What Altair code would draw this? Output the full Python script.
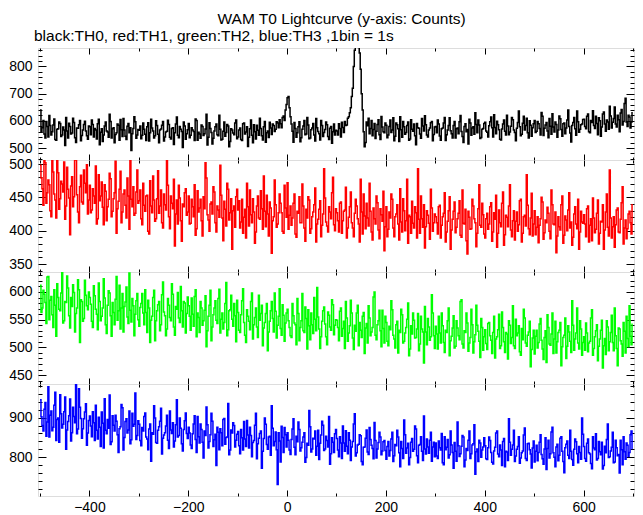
import altair as alt
import pandas as pd

FONT = "Liberation Sans"

# ---- data: counts per 1 s bin starting at t = -500 ----
# the "_even" lists hold bins -500, -496, ... ; the "_odd" lists hold bins -498, -494, ...
t_start = -500
bin_step = 2

th0_even = [
    640, 575, 552, 598, 541, 583, 560, 607, 529, 571, 590, 548, 566, 612, 537, 579, 555, 594, 520, 573, 601, 546, 587, 563, 532,
    578, 603, 541, 566, 589, 512, 571, 548, 596, 559, 624, 537, 575, 550, 588, 529, 567, 609, 543, 580, 556, 491, 572, 597, 548,
    565, 534, 592, 551, 578, 526, 606, 563, 545, 583, 519, 570, 598, 541, 562, 587, 533, 575, 556, 614, 538, 569, 502, 581, 553,
    590, 547, 566, 528, 601, 558, 536, 579, 553, 624, 540, 572, 515, 563, 588, 545, 569, 532, 596, 557, 581, 524, 566, 549, 603,
    541, 574, 528, 592, 559, 506, 571, 547, 586, 533, 565, 610, 545, 578, 521, 563, 595, 550, 583, 569, 592, 604, 575, 618, 640,
    685, 648, 588, 521, 572, 556, 597, 538, 581, 549, 612, 534, 567, 590, 526, 575, 553, 601, 542, 568, 586, 531, 579, 560, 548,
    563, 589, 541, 576, 598, 585, 615, 648, 720, 860, 875, 870, 790, 640, 505, 596, 610, 572, 545, 590, 562, 604, 531, 577, 556,
    584, 548, 603, 566, 527, 592, 571, 615, 540, 578, 557, 596, 533, 569, 588, 512, 575, 552, 609, 563, 586, 541, 574, 598, 550,
    579, 603, 544, 571, 592, 528, 566, 611, 553, 583, 537, 574, 597, 561, 520, 589, 568, 606, 547, 578, 630, 556, 585, 539, 572,
    595, 558, 582, 614, 541, 576, 599, 567, 530, 588, 562, 621, 549, 580, 604, 557, 573, 636, 545, 591, 566, 610, 537, 584, 575,
    601, 562, 589, 548, 617, 573, 594, 538, 580, 626, 559, 587, 566, 608, 543, 592, 574, 640, 555, 583, 612, 547, 597, 569, 588,
    606, 571, 625, 556, 594, 583, 617, 549, 600, 577, 633, 562, 596, 654, 574, 609, 588, 621, 560, 642, 598, 683, 579, 614, 596,
]
th0_odd = [
    558, 601, 537, 579, 620, 548, 585, 531, 569, 596, 542, 577, 509, 563, 591, 552, 610, 538, 574, 586, 527, 566, 599, 545, 581,
    549, 587, 572, 533, 606, 558, 524, 581, 563, 540, 598, 571, 519, 556, 584, 605, 542, 566, 531, 590, 575, 553, 615, 536, 568,
    581, 547, 569, 528, 593, 556, 574, 537, 600, 551, 566, 584, 526, 559, 602, 540, 572, 513, 588, 547, 579, 561, 596, 532, 567,
    538, 575, 561, 607, 529, 552, 585, 546, 570, 511, 593, 557, 536, 578, 549, 621, 530, 562, 543, 587, 505, 571, 555, 592, 534,
    566, 531, 589, 552, 578, 540, 603, 519, 560, 584, 547, 572, 530, 598, 556, 539, 574, 588, 561, 597, 575, 589, 612, 601, 660,
    690, 615, 562, 594, 540, 578, 523, 569, 601, 552, 585, 537, 574, 548, 609, 561, 530, 583, 557, 596, 542, 573, 518, 588, 565,
    548, 572, 595, 557, 583, 610, 630, 690, 800, 880, 885, 850, 700, 560, 520, 582, 553, 601, 568, 535, 587, 549, 616, 560, 592,
    538, 579, 557, 611, 543, 586, 524, 567, 598, 551, 583, 529, 604, 562, 545, 590, 573, 536, 581, 619, 548, 566, 593, 527, 577,
    556, 588, 529, 574, 612, 549, 583, 564, 537, 598, 571, 553, 620, 542, 579, 560, 515, 592, 574, 551, 587, 603, 535, 569, 590,
    563, 541, 597, 575, 622, 553, 586, 532, 570, 603, 548, 581, 559, 612, 566, 527, 594, 578, 551, 617, 583, 556, 600, 543, 589,
    557, 598, 572, 631, 546, 585, 563, 609, 551, 577, 596, 540, 618, 568, 589, 553, 603, 579, 522, 594, 571, 636, 558, 586, 605,
    579, 617, 560, 601, 637, 572, 590, 611, 543, 625, 588, 603, 569, 618, 595, 651, 577, 604, 629, 585, 664, 596, 621, 574, 633,
]

th1_even = [
    498, 463, 512, 441, 476, 430, 508, 455, 419, 487, 448, 470, 503, 437, 462, 394, 481, 451, 515, 428, 466, 443, 491, 457, 425,
    468, 431, 452, 497, 418, 445, 473, 409, 459, 436, 486, 421, 448, 504, 433, 462, 412, 455, 438, 479, 402, 447, 466, 426, 491,
    445, 418, 471, 429, 453, 395, 437, 482, 414, 448, 426, 461, 404, 439, 509, 421, 452, 433, 377, 446, 468, 415, 440, 457, 423,
    452, 411, 436, 469, 403, 428, 447, 392, 433, 479, 416, 440, 425, 458, 398, 431, 498, 419, 444, 407, 462, 427, 372, 437, 451,
    431, 404, 447, 420, 389, 436, 461, 412, 428, 398, 452, 417, 433, 482, 406, 425, 443, 366, 421, 439, 410, 455, 427, 396, 434,
    472, 423, 408, 441, 395, 429, 451, 412, 437, 384, 419, 446, 403, 428, 464, 410, 432, 391, 425, 449, 407, 436, 418, 480, 400,
    427, 398, 443, 415, 431, 389, 420, 458, 404, 426, 437, 410, 477, 395, 422, 441, 407, 429, 386, 418, 452, 401, 433, 414, 370,
    436, 402, 419, 447, 391, 425, 410, 463, 398, 430, 415, 381, 421, 444, 404, 427, 493, 396, 418, 439, 406, 423, 387, 434, 412,
    421, 395, 438, 408, 426, 383, 414, 451, 401, 429, 397, 418, 445, 390, 411, 432, 365, 420, 403, 437, 412, 396, 469, 405, 424,
    389, 426, 410, 442, 398, 417, 375, 431, 406, 458, 394, 420, 437, 401, 415, 386, 428, 409, 447, 396, 423, 484, 403, 419, 392,
    430, 405, 382, 418, 443, 397, 412, 426, 388, 439, 409, 367, 421, 401, 452, 393, 416, 431, 404, 378, 425, 410, 447, 398, 413,
    424, 391, 437, 408, 385, 419, 402, 446, 396, 413, 372, 428, 405, 491, 389, 421, 409, 434, 397, 442, 380, 416, 403, 429, 395,
]
th1_odd = [
    479, 438, 502, 457, 469, 421, 488, 446, 511, 432, 474, 458, 417, 495, 449, 467, 436, 506, 454, 412, 483, 440, 471, 499, 446,
    427, 463, 441, 410, 484, 452, 435, 469, 415, 447, 478, 429, 457, 396, 444, 489, 428, 461, 419, 452, 507, 436, 423, 458, 441,
    461, 409, 438, 452, 399, 475, 427, 446, 418, 490, 437, 412, 455, 431, 468, 403, 441, 477, 425, 410, 449, 384, 436, 463, 428,
    410, 447, 421, 393, 460, 434, 415, 451, 502, 424, 399, 443, 466, 412, 437, 420, 453, 385, 432, 471, 416, 448, 430, 405, 462,
    445, 413, 396, 432, 471, 407, 424, 448, 381, 437, 419, 460, 402, 429, 453, 392, 434, 415, 476, 405, 427, 441, 399, 468, 420,
    402, 437, 419, 455, 390, 426, 412, 470, 404, 432, 451, 396, 421, 439, 383, 417, 445, 408, 493, 413, 398, 428, 457, 409, 433,
    415, 441, 396, 429, 465, 404, 436, 412, 391, 447, 418, 383, 428, 455, 403, 419, 471, 398, 434, 410, 442, 388, 424, 459, 406,
    391, 428, 455, 404, 421, 439, 386, 413, 448, 400, 477, 423, 396, 411, 436, 389, 417, 452, 405, 374, 430, 411, 462, 399, 425,
    412, 436, 389, 421, 457, 398, 430, 372, 417, 443, 405, 426, 393, 461, 410, 385, 429, 402, 447, 418, 376, 433, 408, 441, 395,
    418, 402, 436, 384, 427, 453, 396, 412, 441, 378, 423, 406, 469, 391, 430, 414, 399, 445, 383, 421, 407, 438, 394, 456, 410,
    394, 421, 408, 450, 387, 416, 435, 399, 461, 410, 428, 392, 406, 439, 381, 422, 400, 457, 413, 390, 436, 403, 372, 429, 411,
    410, 433, 383, 418, 449, 397, 426, 380, 414, 439, 401, 455, 392, 419, 406, 375, 431, 398, 417, 466, 404, 388, 425, 412, 440,
]

th2_even = [
    612, 571, 596, 543, 628, 585, 559, 604, 520, 590, 566, 637, 548, 581, 607, 535, 574, 599, 561, 622, 509, 583, 552, 594, 568,
    590, 547, 611, 569, 532, 583, 556, 624, 541, 576, 598, 520, 563, 587, 549, 612, 571, 528, 582, 555, 634, 546, 575, 560, 597,
    538, 579, 562, 604, 527, 571, 549, 590, 512, 566, 583, 541, 618, 557, 533, 576, 548, 596, 522, 569, 553, 610, 537, 580, 561,
    575, 531, 560, 592, 519, 554, 583, 540, 567, 501, 556, 603, 537, 571, 549, 588, 526, 562, 545, 617, 532, 568, 551, 579, 510,
    563, 527, 584, 545, 509, 556, 532, 598, 541, 571, 518, 549, 576, 535, 561, 494, 547, 583, 528, 565, 540, 606, 522, 558, 544,
    569, 536, 518, 557, 541, 588, 512, 548, 530, 573, 497, 539, 562, 525, 551, 608, 533, 519, 566, 542, 505, 558, 531, 577, 540,
    549, 512, 571, 534, 498, 553, 526, 585, 517, 540, 562, 503, 531, 556, 489, 543, 575, 521, 536, 600, 514, 548, 530, 567, 508,
    545, 503, 532, 568, 515, 541, 490, 527, 559, 511, 536, 580, 497, 524, 549, 518, 561, 506, 533, 472, 528, 552, 513, 595, 521,
    538, 497, 526, 562, 509, 531, 548, 485, 520, 557, 502, 535, 514, 586, 499, 527, 544, 508, 569, 490, 523, 540, 511, 552, 495,
    532, 496, 545, 513, 527, 481, 519, 560, 503, 536, 491, 524, 548, 507, 575, 498, 521, 539, 486, 514, 553, 502, 528, 465, 517,
    488, 531, 509, 552, 497, 518, 473, 536, 504, 562, 515, 490, 527, 545, 501, 522, 480, 539, 511, 584, 495, 526, 508, 548, 486,
    519, 544, 492, 511, 568, 498, 530, 476, 515, 549, 503, 487, 537, 510, 558, 494, 521, 467, 533, 506, 545, 490, 516, 575, 505,
]
th2_odd = [
    563, 603, 581, 627, 550, 592, 536, 576, 615, 569, 598, 544, 583, 629, 557, 590, 613, 528, 571, 604, 586, 547, 621, 575, 600,
    578, 536, 593, 560, 616, 548, 571, 589, 525, 602, 557, 581, 541, 628, 566, 533, 597, 574, 609, 543, 567, 588, 521, 584, 550,
    572, 597, 541, 563, 585, 509, 556, 603, 548, 577, 530, 595, 564, 521, 588, 554, 615, 537, 574, 599, 545, 566, 583, 526, 591,
    556, 589, 538, 604, 562, 527, 571, 548, 593, 530, 576, 512, 559, 584, 543, 605, 551, 533, 579, 521, 566, 594, 538, 557, 585,
    531, 559, 606, 522, 568, 547, 583, 515, 554, 537, 594, 561, 503, 545, 579, 528, 566, 552, 598, 517, 556, 534, 577, 511, 562,
    548, 521, 579, 544, 505, 561, 536, 597, 527, 552, 568, 514, 541, 590, 530, 555, 498, 547, 573, 519, 564, 537, 586, 523, 550,
    536, 565, 520, 547, 583, 511, 539, 562, 496, 529, 576, 545, 518, 563, 535, 508, 553, 528, 591, 522, 541, 567, 501, 534, 556,
    511, 538, 584, 522, 499, 547, 531, 569, 508, 526, 551, 485, 539, 562, 517, 533, 494, 556, 528, 574, 505, 537, 519, 562, 498,
    524, 556, 508, 539, 491, 527, 571, 512, 535, 499, 548, 521, 583, 506, 530, 562, 493, 518, 541, 510, 576, 529, 482, 536, 519,
    507, 543, 521, 489, 556, 515, 532, 498, 564, 510, 527, 479, 540, 518, 503, 551, 526, 492, 534, 569, 508, 522, 547, 496, 531,
    520, 499, 542, 513, 478, 530, 559, 506, 524, 489, 547, 510, 531, 467, 518, 553, 502, 528, 491, 540, 515, 571, 497, 533, 509,
    495, 526, 508, 553, 486, 519, 541, 502, 531, 463, 516, 548, 494, 527, 509, 571, 498, 535, 512, 484, 529, 556, 501, 520, 543,
]

th3_even = [
    945, 880, 921, 853, 978, 906, 867, 931, 842, 899, 958, 874, 915, 820, 890, 947, 862, 903, 988, 871, 926, 848, 897, 935, 861,
    904, 852, 887, 931, 846, 876, 914, 823, 868, 895, 957, 839, 881, 906, 857, 872, 933, 818, 890, 861, 917, 844, 878, 962, 855,
    883, 829, 866, 912, 846, 871, 790, 858, 899, 835, 877, 924, 848, 862, 906, 822, 869, 887, 841, 945, 855, 873, 816, 892, 860,
    876, 831, 859, 905, 812, 852, 884, 838, 866, 927, 823, 857, 891, 844, 779, 863, 872, 829, 898, 850, 936, 818, 861, 880, 843,
    865, 809, 849, 890, 827, 856, 876, 801, 842, 911, 834, 860, 772, 847, 883, 820, 853, 930, 829, 864, 731, 841, 878, 812, 857,
    862, 818, 845, 897, 806, 839, 870, 824, 851, 787, 835, 918, 813, 848, 866, 828, 794, 856, 881, 821, 842, 903, 809, 838, 859,
    847, 801, 836, 879, 815, 828, 862, 792, 840, 910, 811, 833, 854, 781, 826, 869, 807, 845, 822, 888, 798, 837, 851, 816, 842,
    795, 840, 817, 863, 804, 829, 851, 776, 822, 894, 810, 835, 799, 847, 820, 871, 786, 832, 815, 904, 808, 826, 843, 790, 838,
    836, 797, 824, 860, 781, 819, 845, 806, 831, 772, 815, 889, 802, 828, 851, 793, 817, 866, 809, 834, 757, 821, 843, 800, 826,
    829, 794, 851, 812, 783, 825, 866, 801, 818, 840, 776, 813, 897, 805, 831, 789, 820, 852, 798, 816, 874, 792, 835, 808, 823,
    788, 830, 812, 857, 796, 821, 769, 843, 809, 876, 800, 826, 791, 848, 815, 761, 833, 805, 868, 794, 820, 839, 786, 812, 899,
    827, 790, 846, 808, 771, 823, 859, 797, 814, 838, 779, 811, 884, 801, 825, 786, 843, 804, 760, 819, 852, 795, 830, 812, 866,
]
th3_odd = [
    902, 866, 938, 889, 851, 917, 876, 964, 895, 838, 910, 883, 952, 869, 905, 841, 926, 887, 859, 973, 898, 872, 914, 830, 893,
    879, 915, 842, 868, 901, 827, 886, 948, 859, 873, 832, 905, 866, 891, 812, 877, 925, 850, 897, 869, 834, 911, 883, 845, 892,
    842, 875, 903, 851, 819, 884, 862, 930, 837, 868, 891, 808, 856, 879, 843, 917, 860, 826, 882, 851, 899, 834, 870, 912, 847,
    861, 822, 884, 845, 903, 836, 870, 798, 855, 882, 840, 911, 827, 858, 876, 819, 862, 895, 833, 851, 806, 869, 887, 826, 858,
    829, 870, 818, 846, 893, 823, 855, 837, 881, 796, 848, 866, 815, 899, 832, 851, 805, 873, 840, 819, 862, 788, 850, 875, 826,
    843, 807, 871, 825, 853, 889, 816, 838, 862, 799, 830, 877, 821, 846, 805, 868, 835, 891, 817, 853, 826, 782, 849, 812, 870,
    818, 852, 797, 836, 867, 809, 843, 826, 884, 803, 831, 857, 789, 825, 848, 813, 875, 830, 796, 842, 821, 863, 806, 839, 817,
    827, 803, 846, 789, 832, 868, 811, 840, 797, 857, 823, 781, 838, 815, 879, 804, 830, 852, 792, 821, 846, 810, 863, 826, 801,
    803, 841, 818, 786, 852, 825, 798, 866, 812, 837, 790, 829, 809, 855, 776, 822, 843, 797, 831, 882, 814, 789, 836, 818, 849,
    796, 824, 842, 787, 816, 861, 808, 831, 779, 847, 815, 792, 838, 820, 868, 803, 827, 785, 811, 856, 797, 834, 819, 773, 841,
    815, 791, 838, 807, 782, 849, 822, 798, 864, 811, 776, 833, 805, 852, 789, 824, 841, 797, 815, 780, 846, 809, 827, 795, 858,
    797, 835, 811, 784, 852, 819, 793, 840, 806, 770, 828, 845, 799, 816, 863, 788, 824, 807, 843, 781, 814, 836, 802, 857, 820,
]


def merge(even, odd):
    out = []
    for a, b in zip(even, odd):
        out.extend([a, b])
    return out


series = [merge(th0_even, th0_odd), merge(th1_even, th1_odd),
          merge(th2_even, th2_odd), merge(th3_even, th3_odd)]
colors = ["#000000", "#ff0000", "#00ff00", "#0000ff"]
y_domains = [[456, 868], [338, 506], [434, 636], [702, 985]]
y_major = [[500, 600, 700, 800], [350, 400, 450, 500], [450, 500, 550, 600], [800, 900]]
y_minor = [
    [460, 480, 520, 540, 560, 580, 620, 640, 660, 680, 720, 740, 760, 780, 820, 840, 860],
    [340, 360, 370, 380, 390, 410, 420, 430, 440, 460, 470, 480, 490],
    [440, 460, 470, 480, 490, 510, 520, 530, 540, 560, 570, 580, 590, 610, 620, 630],
    [720, 740, 760, 780, 820, 840, 860, 880, 920, 940, 960, 980],
]
x_domain = [-504, 702]
x_major = [-400, -200, 0, 200, 400, 600]
x_minor = [-500, -300, -100, 100, 300, 500, 700]

title_text = "WAM T0 Lightcurve (y-axis: Counts)"
subtitle_text = "black:TH0, red:TH1, green:TH2, blue:TH3 ,1bin = 1s"

PANEL_W = 596
PANEL_H = 112


def axis(orient, values, size, labels, pad=4):
    return alt.Axis(
        orient=orient, values=values, tickSize=size, offset=-size, labels=labels,
        labelPadding=pad, title=None, grid=False, domain=False, tickColor="black",
        tickWidth=1, labelColor="black", labelFont=FONT, labelFontSize=14,
        minExtent=0,
    )


def panel(i, last):
    vals = series[i]
    df = pd.DataFrame({"t": [t_start + bin_step * k for k in range(len(vals))], "c": vals})
    xs = alt.Scale(domain=x_domain, nice=False, zero=False)
    ys = alt.Scale(domain=y_domains[i], nice=False, zero=False)
    line = alt.Chart(df).mark_line(
        interpolate="step-after", color=colors[i], strokeWidth=1.5, clip=True
    ).encode(
        x=alt.X("t:Q", scale=xs, axis=axis("bottom", x_major, 6, last, 4)),
        y=alt.Y("c:Q", scale=ys, axis=axis("left", y_major[i], 8, True, 6)),
    )
    ghost = pd.DataFrame({"t": [100], "c": [sum(y_domains[i]) / 2]})

    def g(xo, yo, xv, yv, xsz, ysz):
        return alt.Chart(ghost).mark_point(opacity=0, size=1, clip=True).encode(
            x=alt.X("t:Q", scale=xs, axis=axis(xo, xv, xsz, False)),
            y=alt.Y("c:Q", scale=ys, axis=axis(yo, yv, ysz, False)),
        )

    layers = [
        line,
        g("bottom", "left", x_minor, y_minor[i], 3, 4),
        g("top", "right", x_major, y_major[i], 6, 8),
        g("top", "right", x_minor, y_minor[i], 3, 4),
    ]
    ch = alt.layer(*layers).resolve_axis(x="independent", y="independent").properties(
        width=PANEL_W, height=PANEL_H
    )
    if i == 0:
        ch = ch.properties(
            title=alt.TitleParams(
                text=subtitle_text, anchor="start", frame="group", font=FONT,
                fontSize=15.5, fontWeight="normal", color="black", offset=3, dx=-4,
            )
        )
    return ch


chart = alt.vconcat(
    *[panel(i, i == 3) for i in range(4)], spacing=0, bounds="flush"
).properties(
    title=alt.TitleParams(
        text=title_text, anchor="middle", font=FONT, fontSize=15.5,
        fontWeight="normal", color="black", offset=1, dx=20,
    ),
    padding={"left": 0, "top": 4, "right": 0, "bottom": 0},
).configure_view(
    stroke="black", strokeWidth=1
).configure(background="white")

chart.save("out.html", embed_options={"renderer": "svg", "actions": False})
